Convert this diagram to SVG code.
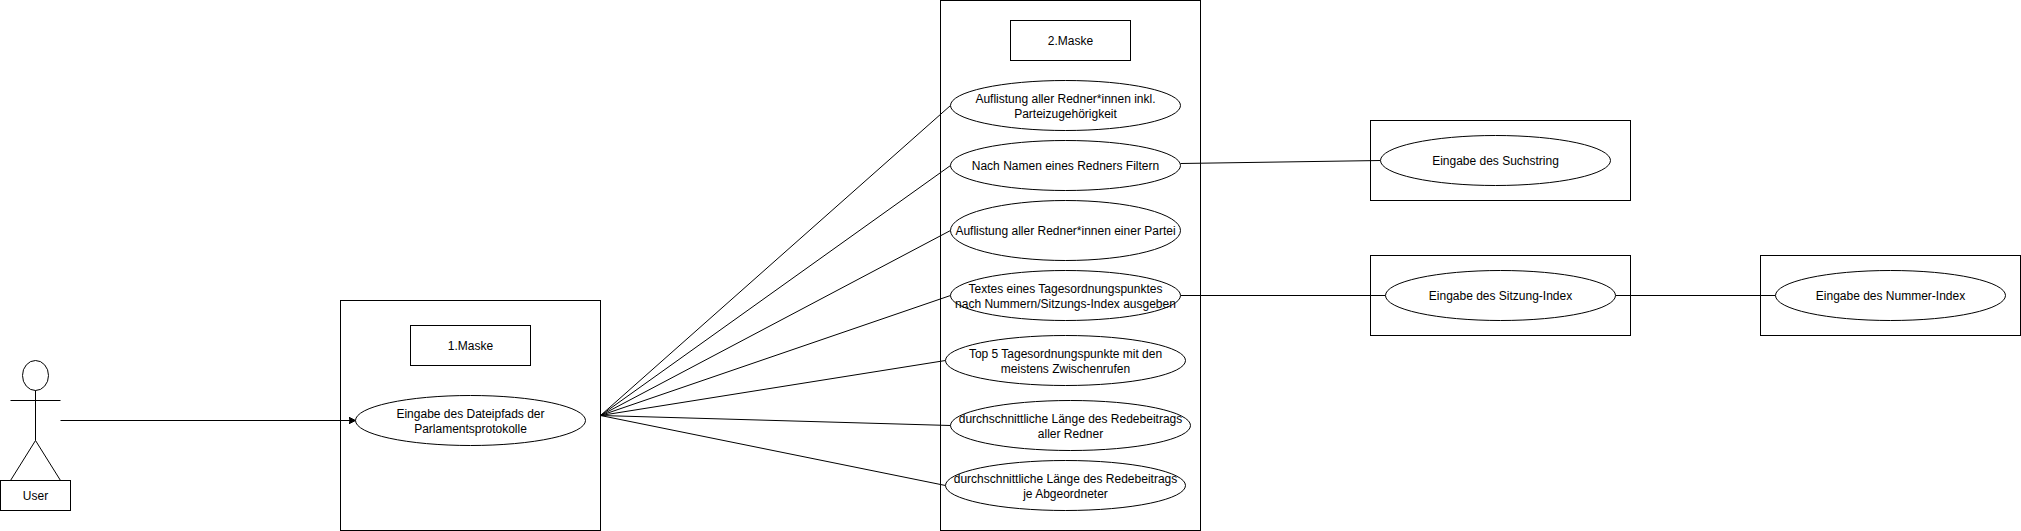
<svg xmlns="http://www.w3.org/2000/svg" width="2021" height="531" viewBox="0 0 2021 531">
<style>
rect,ellipse,circle{fill:#fff;stroke:#000;stroke-width:1}
line,.s{stroke:#000;stroke-width:1;fill:none}
text{font-family:"Liberation Sans",Arial,sans-serif;font-size:12px;fill:#000;text-anchor:middle}
</style>
<defs><marker id="a" markerUnits="userSpaceOnUse" markerWidth="8" markerHeight="8" refX="7" refY="4" orient="auto"><path d="M0 0.5L7 4L0 7.5L1.75 4Z" fill="#000" stroke="#000"/></marker></defs>
<g id="mask1"><rect x="340.5" y="300.5" width="260" height="230"/></g>
<g id="mask1-title"><rect x="410.5" y="325.5" width="120" height="40"/><text x="470.5" y="349.5">1.Maske</text></g>
<g id="mask2"><rect x="940.5" y="0.5" width="260" height="530"/></g>
<g id="mask2-title"><rect x="1010.5" y="20.5" width="120" height="40"/><text x="1070.5" y="44.5">2.Maske</text></g>
<g id="box-such"><rect x="1370.5" y="120.5" width="260" height="80"/></g>
<g id="box-sitzung"><rect x="1370.5" y="255.5" width="260" height="80"/></g>
<g id="box-nummer"><rect x="1760.5" y="255.5" width="260" height="80"/></g>
<g id="connectors">
<line x1="60.5" y1="420.5" x2="355.5" y2="420.5" marker-end="url(#a)"/>
<line x1="600.5" y1="415.5" x2="950.5" y2="105.5"/>
<line x1="600.5" y1="415.5" x2="950.5" y2="165.5"/>
<line x1="600.5" y1="415.5" x2="950.5" y2="230.5"/>
<line x1="600.5" y1="415.5" x2="950.5" y2="295.5"/>
<line x1="600.5" y1="415.5" x2="945.5" y2="360.5"/>
<line x1="600.5" y1="415.5" x2="950.5" y2="425.5"/>
<line x1="600.5" y1="415.5" x2="945.5" y2="485.5"/>
<line x1="1180.5" y1="163.5" x2="1380.5" y2="160.5"/>
<line x1="1180.5" y1="295.5" x2="1385.5" y2="295.5"/>
<line x1="1615.5" y1="295.5" x2="1775.5" y2="295.5"/>
</g>
<g id="user"><ellipse cx="35.5" cy="375.5" rx="13" ry="15"/><path class="s" d="M35.5 390.5V440.5M10.5 400.5H60.5M10.5 480.5L35.5 440.5L60.5 480.5"/></g>
<g id="user-label"><rect x="0.5" y="480.5" width="70" height="30"/><text x="35.5" y="499.5">User</text></g>
<g id="u1"><ellipse cx="470.5" cy="420.5" rx="115" ry="25"/><text x="470.5" y="417.5">Eingabe des Dateipfads der</text><text x="470.5" y="432.5">Parlamentsprotokolle</text></g>
<g id="u2"><ellipse cx="1065.5" cy="105.5" rx="115" ry="25"/><text x="1065.5" y="102.5">Auflistung aller  Redner*innen  inkl.</text><text x="1065.5" y="117.5">Parteizugehörigkeit</text></g>
<g id="u3"><ellipse cx="1065.5" cy="165.5" rx="115" ry="25"/><text x="1065.5" y="169.5">Nach Namen eines Redners Filtern</text></g>
<g id="u4"><ellipse cx="1065.5" cy="230.5" rx="115" ry="30"/><text x="1065.5" y="234.5">Auflistung aller  Redner*innen einer Partei</text></g>
<g id="u5"><ellipse cx="1065.5" cy="295.5" rx="115" ry="25"/><text x="1065.5" y="292.5">Textes eines Tagesordnungspunktes</text><text x="1065.5" y="307.5">nach Nummern/Sitzungs-Index ausgeben</text></g>
<g id="u6"><ellipse cx="1065.5" cy="360.5" rx="120" ry="25"/><text x="1065.5" y="357.5">Top 5 Tagesordnungspunkte mit den</text><text x="1065.5" y="372.5">meistens Zwischenrufen</text></g>
<g id="u7"><ellipse cx="1070.5" cy="425.5" rx="120" ry="25"/><text x="1070.5" y="422.5">durchschnittliche Länge des Redebeitrags</text><text x="1070.5" y="437.5">aller Redner</text></g>
<g id="u8"><ellipse cx="1065.5" cy="485.5" rx="120" ry="25"/><text x="1065.5" y="482.5">durchschnittliche Länge des Redebeitrags</text><text x="1065.5" y="497.5">je Abgeordneter</text></g>
<g id="u9"><ellipse cx="1495.5" cy="160.5" rx="115" ry="25"/><text x="1495.5" y="164.5">Eingabe des Suchstring</text></g>
<g id="u10"><ellipse cx="1500.5" cy="295.5" rx="115" ry="25"/><text x="1500.5" y="299.5">Eingabe des Sitzung-Index</text></g>
<g id="u11"><ellipse cx="1890.5" cy="295.5" rx="115" ry="25"/><text x="1890.5" y="299.5">Eingabe des Nummer-Index</text></g>
</svg>
